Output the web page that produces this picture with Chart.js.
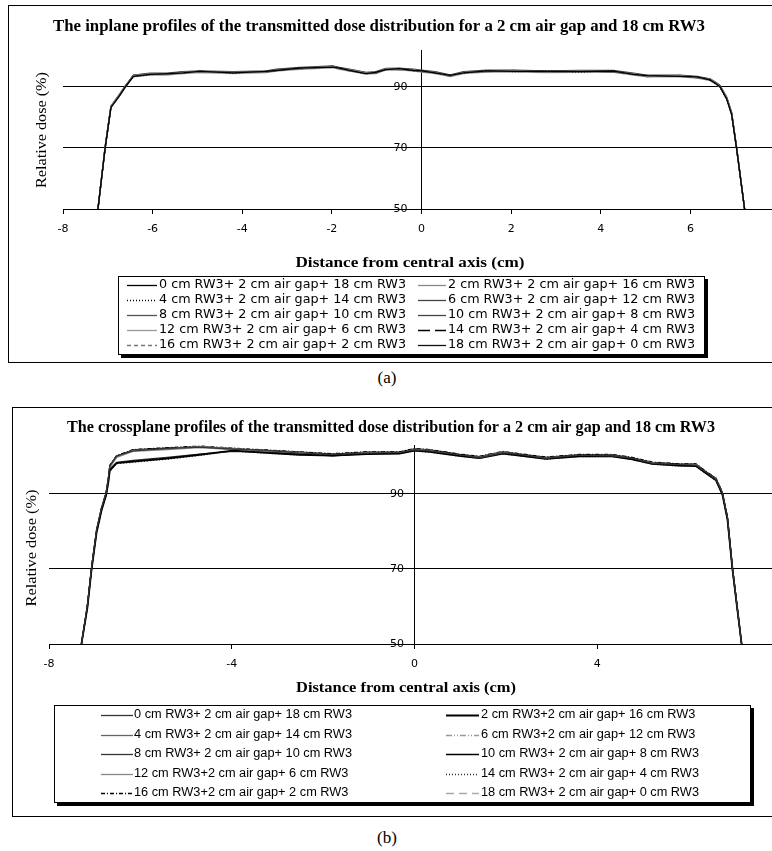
<!DOCTYPE html>
<html>
<head>
<meta charset="utf-8">
<script src="https://cdn.jsdelivr.net/npm/chart.js@4.4.1/dist/chart.umd.min.js"></script>
<style>
html, body { margin: 0; padding: 0; background: #fff; overflow: hidden; }
body { width: 772px; height: 851px; position: relative; }
.panel { position: absolute; border: 1px solid #000; box-sizing: border-box; background: #fff; }
#panelA { left: 8px; top: 5px; width: 800px; height: 358px; }
#panelB { left: 12px; top: 407px; width: 800px; height: 410px; }
.panel canvas { display: block; }
.caption { position: absolute; left: 0; width: 774px; text-align: center;
           font: 17px 'Liberation Serif', serif; line-height: 20px; color: #000; }
</style>
</head>
<body>
<div class="panel" id="panelA"><canvas id="chartA" width="798" height="356"></canvas></div>
<div class="caption" style="top:368px">(a)</div>
<div class="panel" id="panelB"><canvas id="chartB" width="798" height="408"></canvas></div>
<div class="caption" style="top:828px">(b)</div>
<script>
// ---------- (a) inplane ----------
const xA = [-7.22, -7.06, -6.93, -6.75, -6.61, -6.43, -6.06, -5.69, -5.32, -4.95, -4.2, -3.46, -3.24, -2.72,
    -1.98, -1.83, -1.61, -1.24, -1.02, -0.8, -0.5, -0.18, 0, 0.3, 0.64, 0.94, 1.46, 2.06, 2.8, 3.54, 4.28,
    4.73, 5.03, 5.77, 6.15, 6.44, 6.59, 6.66, 6.81, 6.92, 7.03, 7.21];

const a0  = [50, 70, 83.2, 86.8, 89.9, 93.4, 94.0, 94.2, 94.5, 95.0, 94.5, 95.0, 95.3, 96.1, 96.4, 96.1, 95.3, 94.3, 94.7, 95.6, 95.9, 95.3, 95.2, 94.5, 93.7, 94.5, 95.2, 95.0, 95.0, 94.9, 95.1, 94.0, 93.6, 93.4, 93.2, 92.2, 90.8, 90.0, 86.0, 81.0, 70, 50];
const a2  = [50, 70.5, 83.6, 87.2, 90.2, 93.6, 94.2, 94.0, 94.7, 94.8, 94.7, 94.8, 95.5, 95.9, 96.6, 95.9, 95.5, 94.5, 94.5, 95.8, 95.7, 95.5, 95.0, 94.7, 93.5, 94.7, 95.0, 95.2, 94.8, 95.1, 94.9, 94.2, 93.4, 93.6, 93.0, 92.4, 91.0, 90.2, 86.4, 81.4, 70.4, 50];
const a4  = [50, 69.6, 83.3, 86.9, 90.0, 93.3, 93.9, 94.3, 94.4, 95.1, 94.4, 95.1, 95.2, 96.2, 96.3, 96.2, 95.2, 94.2, 94.8, 95.5, 96.0, 95.2, 95.3, 94.4, 93.8, 94.4, 95.3, 94.9, 95.1, 94.8, 95.2, 93.9, 93.7, 93.3, 93.3, 92.1, 90.7, 89.9, 85.8, 80.8, 69.6, 50];
const a6  = [50, 70.2, 83.5, 87.1, 90.1, 93.7, 94.3, 94.1, 94.8, 94.7, 94.8, 94.7, 95.6, 95.8, 96.7, 95.8, 95.6, 94.6, 94.4, 95.9, 95.6, 95.6, 94.9, 94.8, 93.4, 94.8, 94.9, 95.3, 94.7, 95.2, 94.8, 94.3, 93.3, 93.7, 92.9, 92.5, 91.1, 90.3, 86.5, 81.5, 70.2, 50];
const a8  = [50, 69.8, 83.4, 87.0, 90.0, 93.5, 94.1, 94.0, 94.6, 94.9, 94.6, 95.0, 95.4, 96.0, 96.5, 96.0, 95.4, 94.4, 94.6, 95.7, 95.8, 95.4, 95.1, 94.6, 93.6, 94.6, 95.1, 95.1, 94.9, 95.0, 95.0, 94.1, 93.5, 93.5, 93.1, 92.3, 90.9, 90.1, 86.2, 81.2, 70, 50];
const a10 = [50, 70.3, 83.7, 87.3, 90.3, 93.8, 94.4, 94.4, 94.9, 95.2, 94.9, 95.2, 95.7, 96.3, 96.8, 96.3, 95.7, 94.7, 94.9, 96.0, 96.1, 95.7, 95.4, 94.9, 93.9, 94.9, 95.4, 95.4, 95.2, 95.3, 95.3, 94.4, 93.8, 93.8, 93.4, 92.6, 91.2, 90.4, 86.6, 81.6, 70.3, 50];
const a12 = [50, 69.7, 83.1, 86.7, 89.7, 93.2, 93.8, 93.8, 94.3, 94.6, 94.3, 94.6, 95.1, 95.7, 96.2, 95.7, 95.1, 94.1, 94.3, 95.4, 95.5, 95.1, 94.8, 94.3, 93.3, 94.3, 94.8, 94.8, 94.6, 94.7, 94.7, 93.8, 93.2, 93.2, 92.8, 92.0, 90.6, 89.8, 85.9, 80.9, 69.7, 50];
const a14 = [50, 70.1, 83.5, 87.1, 90.1, 93.6, 94.2, 94.2, 94.7, 95.0, 94.7, 95.0, 95.5, 96.1, 96.6, 96.1, 95.5, 94.5, 94.7, 95.8, 95.9, 95.5, 95.2, 94.7, 93.7, 94.7, 95.2, 95.2, 95.0, 95.1, 95.1, 94.2, 93.6, 93.6, 93.2, 92.4, 91.0, 90.2, 86.3, 81.3, 70.1, 50];
const a16 = [50, 69.9, 83.3, 86.9, 89.9, 93.4, 94.0, 94.3, 94.5, 94.8, 94.5, 94.9, 95.3, 95.9, 96.4, 95.9, 95.3, 94.3, 94.5, 95.6, 95.7, 95.3, 95.0, 94.5, 93.5, 94.5, 95.0, 95.0, 94.8, 94.9, 94.9, 94.0, 93.4, 93.4, 93.0, 92.2, 90.8, 90.0, 86.1, 81.1, 69.9, 50];
const a18 = [50, 70, 83.4, 87.0, 90.0, 93.5, 94.1, 94.1, 94.6, 94.9, 94.6, 94.9, 95.4, 96.0, 96.5, 96.0, 95.4, 94.4, 94.6, 95.7, 95.8, 95.4, 95.1, 94.6, 93.6, 94.6, 95.1, 95.1, 94.9, 95.0, 95.0, 94.1, 93.5, 93.5, 93.1, 92.3, 90.9, 90.1, 86.2, 81.2, 70, 50];

const labelsA = [
    '0 cm RW3+ 2 cm air gap+ 18 cm RW3', '2 cm RW3+ 2 cm air gap+ 16 cm RW3',
    '4 cm RW3+ 2 cm air gap+ 14 cm RW3', '6 cm RW3+ 2 cm air gap+ 12 cm RW3',
    '8 cm RW3+ 2 cm air gap+ 10 cm RW3', '10 cm RW3+ 2 cm air gap+ 8 cm RW3',
    '12 cm RW3+ 2 cm air gap+ 6 cm RW3', '14 cm RW3+ 2 cm air gap+ 4 cm RW3',
    '16 cm RW3+ 2 cm air gap+ 2 cm RW3', '18 cm RW3+ 2 cm air gap+ 0 cm RW3',
];
const seriesA = [a0, a2, a4, a6, a8, a10, a12, a14, a16, a18];
const stylesA = [
    { color: '#000', width: 1.3, dash: [] },
    { color: '#8a8a8a', width: 1.3, dash: [] },
    { color: '#000', width: 1.2, dash: [1, 2] },
    { color: '#444', width: 1.3, dash: [] },
    { color: '#555', width: 1.3, dash: [] },
    { color: '#444', width: 1.3, dash: [] },
    { color: '#999', width: 1.3, dash: [] },
    { color: '#000', width: 1.3, dash: [12, 5] },
    { color: '#777', width: 1.2, dash: [4, 3] },
    { color: '#111', width: 1.3, dash: [] },
];

// ---------- (b) crossplane ----------
const xB = [-7.29, -7.16, -7.07, -6.96, -6.85, -6.75, -6.7, -6.67, -6.52, -6.16, -5.42, -4.7, -3.98, -3.24,
    -2.51, -1.79, -1.05, -0.33, 0, 0.33, 0.98, 1.42, 1.93, 2.3, 2.88, 3.6, 4.33, 4.77, 5.2, 5.79, 6.16,
    6.38, 6.6, 6.74, 6.85, 6.96, 7.06, 7.16];

const b0  = [50, 60.3, 70.2, 80.4, 86.3, 90.2, 94.2, 97.4, 100.1, 101.4, 102.1, 102.4, 101.9, 101.6, 100.8, 100.5, 100.8, 101.0, 101.7, 101.4, 100.4, 99.6, 100.9, 100.5, 99.4, 100.3, 100.1, 99.5, 98.1, 97.8, 97.6, 95.8, 93.8, 90.2, 83.7, 70.2, 60.1, 50];
const b2  = [50, 59.6, 69.7, 79.6, 85.6, 89.6, 93.2, 96.2, 98.2, 98.6, 99.4, 100.4, 101.5, 100.9, 100.4, 100.2, 100.6, 100.7, 101.5, 101.2, 100.1, 99.5, 100.7, 100.2, 99.3, 100.0, 100.0, 99.2, 98.0, 97.5, 97.4, 95.5, 93.6, 89.8, 83.2, 69.8, 59.8, 50];
const b4  = [50, 60.1, 70.1, 80.1, 86.1, 90.1, 94.1, 97.3, 99.9, 101.6, 101.9, 102.6, 102.1, 101.4, 101.0, 100.3, 101.0, 100.8, 101.9, 101.6, 100.2, 99.8, 101.1, 100.3, 99.6, 100.1, 100.3, 99.3, 98.3, 97.6, 97.8, 95.6, 94.0, 90.1, 83.6, 70.1, 60.2, 50];
const b6  = [50, 60.0, 70.0, 80.0, 86.0, 90.0, 94.0, 97.2, 99.8, 101.5, 102.0, 102.5, 102.0, 101.5, 100.9, 100.4, 100.9, 100.9, 101.8, 101.5, 100.3, 99.7, 101.0, 100.4, 99.5, 100.2, 100.2, 99.4, 98.2, 97.7, 97.7, 95.7, 93.9, 90.0, 83.5, 70.0, 60.0, 50];
const b8  = [50, 59.8, 69.8, 79.8, 85.8, 89.8, 93.5, 96.6, 98.4, 98.9, 99.7, 100.6, 101.3, 101.1, 100.6, 100.1, 100.7, 100.9, 101.6, 101.3, 100.2, 99.6, 100.8, 100.3, 99.4, 100.1, 100.1, 99.3, 98.1, 97.6, 97.5, 95.6, 93.7, 89.9, 83.3, 69.9, 59.9, 50];
const b10 = [50, 60.2, 70.3, 80.2, 86.2, 90.3, 94.3, 97.5, 100.0, 101.7, 102.2, 102.6, 102.0, 101.6, 101.1, 100.6, 101.1, 101.1, 102.0, 101.7, 100.5, 99.9, 101.2, 100.6, 99.7, 100.4, 100.4, 99.6, 98.4, 97.9, 97.9, 95.9, 94.1, 90.3, 83.8, 70.3, 60.3, 50];
const b12 = [50, 59.9, 69.9, 79.9, 85.9, 89.9, 93.9, 97.0, 99.7, 101.3, 101.8, 102.3, 101.8, 101.3, 100.7, 100.2, 100.7, 100.7, 101.6, 101.3, 100.1, 99.5, 100.8, 100.2, 99.3, 100.0, 100.0, 99.2, 98.0, 97.5, 97.5, 95.5, 93.7, 89.9, 83.4, 69.9, 59.9, 50];
const b14 = [50, 59.7, 69.6, 79.5, 85.5, 89.5, 93.0, 96.0, 98.0, 98.4, 99.2, 100.2, 101.4, 100.8, 100.3, 100.3, 100.5, 100.8, 101.4, 101.1, 100.0, 99.4, 100.6, 100.1, 99.2, 99.9, 99.9, 99.1, 97.9, 97.4, 97.3, 95.4, 93.5, 89.7, 83.1, 69.7, 59.7, 50];
const b16 = [50, 60.4, 70.4, 80.3, 86.4, 90.4, 94.4, 97.6, 100.2, 101.8, 102.3, 102.7, 102.2, 101.7, 101.2, 100.7, 101.2, 101.2, 102.1, 101.8, 100.6, 100.0, 101.3, 100.7, 99.8, 100.5, 100.5, 99.7, 98.5, 98.0, 98.0, 96.0, 94.2, 90.4, 83.9, 70.4, 60.4, 50];
const b18 = [50, 60.1, 70.0, 80.1, 86.1, 90.1, 94.1, 97.3, 99.9, 101.5, 102.1, 102.4, 101.9, 101.5, 100.9, 100.4, 100.9, 101.0, 101.8, 101.4, 100.3, 99.7, 100.9, 100.4, 99.5, 100.2, 100.2, 99.4, 98.2, 97.7, 97.7, 95.7, 93.9, 90.1, 83.6, 70.1, 60.1, 50];

const labelsB = [
    '0 cm RW3+ 2 cm air gap+ 18 cm RW3', '2 cm RW3+2 cm air gap+ 16 cm RW3',
    '4 cm RW3+ 2 cm air gap+ 14 cm RW3', '6 cm RW3+2 cm air gap+ 12 cm RW3',
    '8 cm RW3+ 2 cm air gap+ 10 cm RW3', '10 cm RW3+ 2 cm air gap+ 8 cm RW3',
    '12 cm RW3+2 cm air gap+ 6 cm RW3', '14 cm RW3+ 2 cm air gap+ 4 cm RW3',
    '16 cm RW3+2 cm air gap+ 2 cm RW3', '18 cm RW3+ 2 cm air gap+ 0 cm RW3',
];
const seriesB = [b0, b2, b4, b6, b8, b10, b12, b14, b16, b18];
const stylesB = [
    { color: '#333', width: 1.2, dash: [] },
    { color: '#000', width: 1.8, dash: [] },
    { color: '#666', width: 1.2, dash: [] },
    { color: '#999', width: 1.2, dash: [6, 2, 1, 2, 1, 2] },
    { color: '#333', width: 1.2, dash: [] },
    { color: '#000', width: 1.2, dash: [] },
    { color: '#888', width: 1.3, dash: [] },
    { color: '#333', width: 1.2, dash: [1, 2] },
    { color: '#000', width: 1.2, dash: [4, 2, 1, 2] },
    { color: '#aaa', width: 1.3, dash: [8, 5] },
];

// 兩張圖共用的 Y 軸刻度
const yTickValues = [50, 70, 90];

// 把文字水平縮放到指定寬度
function fitText(ctx, text, cx, cy, width, font, rotate) {
    ctx.save();
    ctx.font = font;
    const w = ctx.measureText(text).width;
    ctx.translate(cx, cy);
    if (rotate) ctx.rotate(-Math.PI / 2);
    ctx.scale(width / w, 1);
    ctx.textAlign = 'center';
    ctx.textBaseline = 'middle';
    ctx.fillStyle = '#000';
    ctx.fillText(text, 0, 0);
    ctx.restore();
}

function drawLegend(ctx, lg, labels, styles) {
    ctx.save();
    ctx.fillStyle = '#000';
    ctx.fillRect(lg.left + 3, lg.top + lg.height, lg.width, 3);
    ctx.fillRect(lg.left + lg.width, lg.top + 3, 3, lg.height);
    ctx.fillStyle = '#fff';
    ctx.fillRect(lg.left, lg.top, lg.width, lg.height);
    ctx.strokeStyle = '#000';
    ctx.lineWidth = 1;
    ctx.strokeRect(lg.left + 0.5, lg.top + 0.5, lg.width - 1, lg.height - 1);

    ctx.font = lg.font;
    const k = lg.refWidth / ctx.measureText(labels[0]).width;
    labels.forEach((label, i) => {
        const col = lg.cols[i % 2];
        const y = lg.rows[Math.floor(i / 2)];
        const st = styles[i];
        ctx.strokeStyle = st.color;
        ctx.lineWidth = Math.max(st.width, 1.3);
        ctx.setLineDash(st.dash);
        ctx.beginPath();
        ctx.moveTo(col.x0, y + 0.5);
        ctx.lineTo(col.x1, y + 0.5);
        ctx.stroke();
        ctx.setLineDash([]);
        ctx.save();
        ctx.translate(col.text, y);
        ctx.scale(k, 1);
        ctx.fillStyle = '#000';
        ctx.textAlign = 'left';
        ctx.textBaseline = 'middle';
        ctx.fillText(label, 0, 0);
        ctx.restore();
    });
    ctx.restore();
}

const panelText = {
    id: 'panelText',
    afterDraw(chart, args, o) {
        const ctx = chart.ctx;
        fitText(ctx, o.title, o.titleX, o.titleY, o.titleW, 'bold 16px "Liberation Serif"');
        fitText(ctx, 'Distance from central axis (cm)', o.xTitleX, o.xTitleY, o.xTitleW, 'bold 14px "Liberation Serif"');
        fitText(ctx, 'Relative dose (%)', o.yTitleX, o.yTitleY, o.yTitleW, '14px "Liberation Serif"', true);
        drawLegend(ctx, o.legend, o.labels, o.styles);
    },
};

const tickFont = { family: "'DejaVu Sans', sans-serif", size: 11 };

function buildChart(id, xs, series, styles, labels, opt) {
    const datasets = series.map((ys, i) => ({
        label: labels[i],
        data: xs.map((x, j) => ({ x, y: ys[j] })),
        borderColor: styles[i].color,
        borderWidth: styles[i].width,
        borderDash: styles[i].dash,
        pointRadius: 0,
        tension: 0,
        fill: false,
    }));
    return new Chart(document.getElementById(id), {
        type: 'line',
        data: { datasets },
        plugins: [panelText],
        options: {
            responsive: false,
            animation: false,
            layout: { padding: { left: opt.padLeft, top: opt.padTop, right: opt.padRight, bottom: 0 } },
            scales: {
                x: {
                    type: 'linear',
                    min: -8,
                    max: 8,
                    afterFit: (s) => { s.height = opt.xAxisHeight; },
                    border: { color: '#000', width: 1 },
                    grid: { drawOnChartArea: false, drawTicks: true, tickLength: 5, color: '#000' },
                    ticks: { stepSize: opt.xStep, color: '#000', font: tickFont, padding: opt.xPad, maxRotation: 0 },
                },
                y: {
                    type: 'linear',
                    min: 50,
                    max: opt.yMax,
                    position: { x: 0 },
                    afterBuildTicks: (s) => { s.ticks = yTickValues.map(v => ({ value: v })); },
                    border: { color: '#000', width: 1 },
                    grid: { color: '#000', lineWidth: 1, drawTicks: false },
                    ticks: {
                        color: '#000',
                        font: tickFont,
                        // 標籤與軸線的間距
                        callback: (v) => v + opt.yGap,
                    },
                },
            },
            plugins: {
                legend: { display: false },
                tooltip: { enabled: false },
                panelText: Object.assign({ labels, styles }, opt.text),
            },
        },
    });
}

buildChart('chartA', xA, seriesA, stylesA, labelsA, {
    padLeft: 54, padTop: 44, padRight: 27, xAxisHeight: 153, yMax: 102, xStep: 2, xPad: 9, yGap: '    ',
    text: {
        title: 'The inplane profiles of the transmitted dose distribution for a 2 cm air gap and 18 cm RW3',
        titleX: 370, titleY: 21, titleW: 652,
        xTitleX: 401, xTitleY: 257, xTitleW: 229,
        yTitleX: 33, yTitleY: 124, yTitleW: 116,
        legend: {
            left: 109, top: 270, width: 587, height: 79,
            rows: [279, 294, 309, 324, 339],
            cols: [{ x0: 118, x1: 148, text: 150 }, { x0: 409, x1: 437, text: 439 }],
            font: "12px 'DejaVu Sans'", refWidth: 247,
        },
    },
});

buildChart('chartB', xB, seriesB, stylesB, labelsB, {
    padLeft: 36, padTop: 37, padRight: 31, xAxisHeight: 172, yMax: 103, xStep: 4, xPad: 9, yGap: '   ',
    text: {
        title: 'The crossplane profiles of the transmitted dose distribution for a 2 cm air gap and 18 cm RW3',
        titleX: 378, titleY: 20, titleW: 648,
        xTitleX: 393, xTitleY: 280, xTitleW: 220,
        yTitleX: 19, yTitleY: 140, yTitleW: 117,
        legend: {
            left: 41, top: 297, width: 697, height: 98,
            rows: [307, 327, 346, 366, 385],
            cols: [{ x0: 88, x1: 120, text: 121 }, { x0: 433, x1: 466, text: 468 }],
            font: "12px 'Liberation Sans'", refWidth: 218,
        },
    },
});
</script>
</body>
</html>
